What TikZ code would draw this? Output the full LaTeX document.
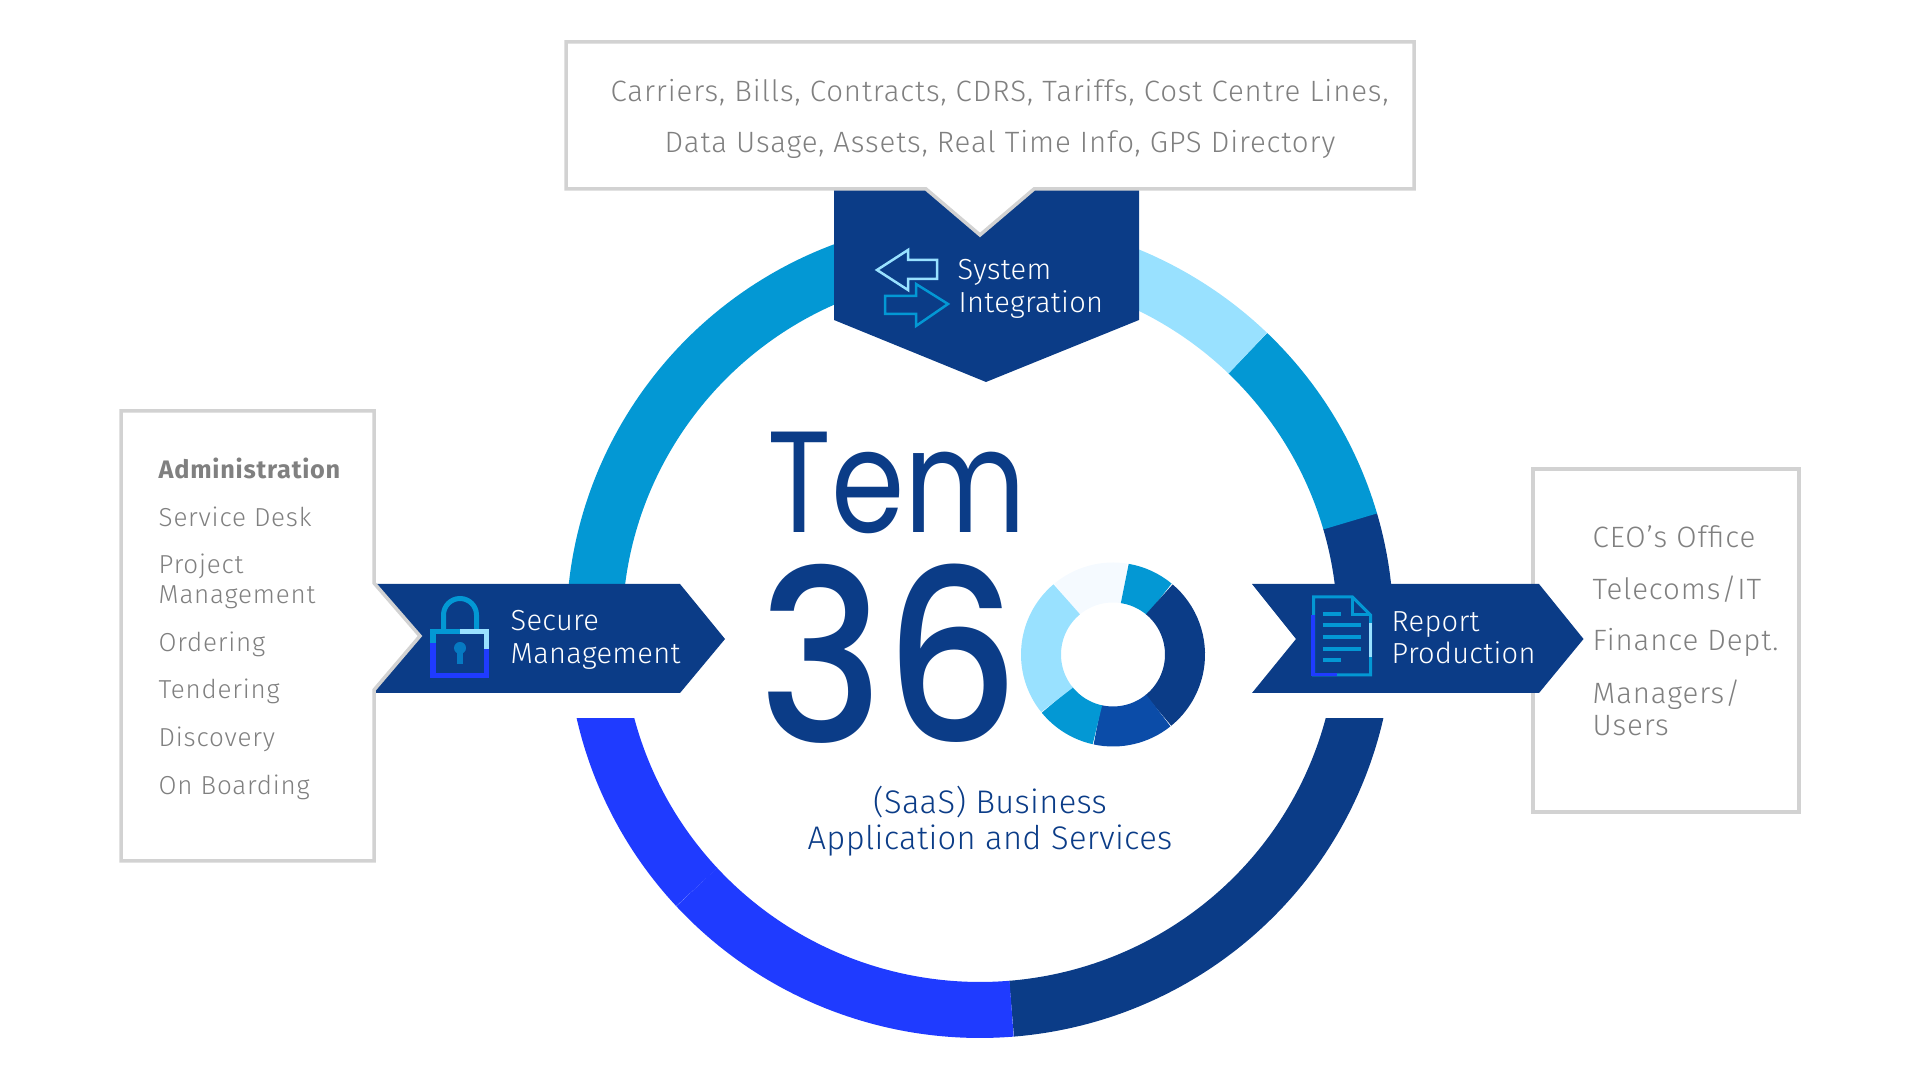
\documentclass[tikz,border=0pt]{standalone}
\usepackage{fontspec}
\setmainfont{Fira Sans}
\newfontfamily\lightfont{Fira Sans Light}[LetterSpace=3]
\newfontfamily\labelfont{Fira Sans Light}[LetterSpace=1]
\newfontfamily\strongfont{Fira Sans}[LetterSpace=3]
\newfontfamily\logofont{Poppins}
\newfontfamily\digitfont{Poppins Medium}
\definecolor{navy}{HTML}{0B3C87}
\definecolor{midblue}{HTML}{0398D4}
\definecolor{paleblue}{HTML}{99E1FF}
\definecolor{brightblue}{HTML}{1F3BFF}
\definecolor{royal}{HTML}{0B4CA8}
\definecolor{ice}{HTML}{F5FAFF}
\definecolor{boxline}{HTML}{D2D2D2}
\definecolor{greytext}{HTML}{808080}
\tikzset{
    ringseg/.style={line width=0.56cm},
    donutseg/.style={line width=0.40cm},
    infobox/.style={draw=boxline, line width=0.035cm, fill=white, miter limit=10},
    banner/.style={fill=navy},
    greylabel/.style={anchor=base west, inner sep=0pt, text=greytext, font=\fontsize{8.37}{10}\lightfont},
    listlabel/.style={greylabel, font=\fontsize{7.4}{10}\lightfont},
    whitelabel/.style={anchor=base west, inner sep=0pt, text=white, font=\fontsize{8.26}{10}\labelfont},
    sublabel/.style={anchor=base, inner sep=0pt, text=navy, font=\fontsize{9.3}{10}\labelfont},
    iconline/.style={line width=0.025cm, fill=none},
}
\begin{document}
\begin{tikzpicture}
    \useasboundingbox (0,0) rectangle (19.2,10.8);

    % Outer ring
    \begin{scope}[shift={(9.80,4.52)}]
        \foreach \from/\to/\col in {274.7/376.3/navy, 46/16.2/midblue, 100/46/paleblue, 190/100/midblue,
            190/222.7/brightblue, 222.7/274.7/brightblue}
            \draw[ringseg, \col] (\from:3.855 and 3.82) arc (\from:\to:3.855 and 3.82);
    \end{scope}
    \fill[white] (5.40,3.62) rectangle (14.30,3.87);

    % Banners
    \fill[banner] (8.34,9.00) -- (11.39,9.00) -- (11.39,7.60) -- (9.86,6.98) -- (8.34,7.60) -- cycle;
    \fill[banner] (3.75,4.96) -- (6.80,4.96) -- (7.25,4.41) -- (6.80,3.87) -- (3.75,3.87) -- cycle;

    % Boxes
    \draw[infobox] (5.66,8.91) -- (9.26,8.91) -- (9.80,8.45) -- (10.34,8.91) -- (14.14,8.91)
        -- (14.14,10.38) -- (5.66,10.38) -- cycle;
    \draw[infobox] (1.21,2.19) -- (3.74,2.19) -- (3.74,3.90) -- (4.20,4.44) -- (3.74,4.97)
        -- (3.74,6.69) -- (1.21,6.69) -- cycle;
    \draw[infobox] (15.33,2.68) rectangle (17.99,6.11);
    \fill[banner] (12.52,4.96) -- (15.39,4.96) -- (15.835,4.41) -- (15.39,3.87) -- (12.52,3.87)
        -- (12.96,4.41) -- cycle;

    % Top box text
    \node[greylabel] (carriers) at (6.10,9.78) {Carriers, Bills, Contracts, CDRS, Tariffs, Cost Centre Lines,};
    \node[greylabel] (usage) at (6.64,9.27) {Data Usage, Assets, Real Time Info, GPS Directory};

    % Left box text
    \node[listlabel, font=\fontsize{7.2}{10}\strongfont\bfseries] (admin) at (1.58,6.01) {Administration};
    \node[listlabel] (desk) at (1.58,5.53) {Service Desk};
    \node[listlabel] (project) at (1.58,5.06) {Project};
    \node[listlabel] (projectb) at (1.58,4.76) {Management};
    \node[listlabel] (ordering) at (1.58,4.28) {Ordering};
    \node[listlabel] (tendering) at (1.58,3.81) {Tendering};
    \node[listlabel] (discovery) at (1.58,3.33) {Discovery};
    \node[listlabel] (boarding) at (1.58,2.85) {On Boarding};

    % Right box text
    \node[greylabel] (ceo) at (15.92,5.32) {CEO’s Office};
    \node[greylabel] (telecoms) at (15.92,4.80) {Telecoms/IT};
    \node[greylabel] (finance) at (15.92,4.29) {Finance Dept.};
    \node[greylabel] (managers) at (15.92,3.76) {Managers/};
    \node[greylabel] (users) at (15.92,3.44) {Users};

    % Banner text
    \node[whitelabel] (system) at (9.57,8.00) {System};
    \node[whitelabel] (integration) at (9.58,7.67) {Integration};
    \node[whitelabel] (secure) at (5.10,4.49) {Secure};
    \node[whitelabel] (management) at (5.10,4.16) {Management};
    \node[whitelabel] (report) at (13.91,4.48) {Report};
    \node[whitelabel] (production) at (13.91,4.16) {Production};

    % System icon
    \draw[iconline, paleblue] (8.77,8.10) -- (9.08,8.30) -- (9.08,8.20) -- (9.37,8.20) -- (9.37,8.01)
        -- (9.08,8.01) -- (9.08,7.90) -- cycle;
    \draw[iconline, midblue] (9.48,7.76) -- (9.16,7.96) -- (9.16,7.84) -- (8.85,7.84) -- (8.85,7.66)
        -- (9.16,7.66) -- (9.16,7.54) -- cycle;

    % Lock icon
    \draw[line width=0.05cm, midblue] (4.435,4.51) -- (4.435,4.65) arc (180:0:0.165) -- (4.765,4.51);
    \draw[line width=0.055cm, brightblue] (4.33,4.37) -- (4.33,4.045) -- (4.865,4.045) -- (4.865,4.31);
    \draw[line width=0.055cm, midblue] (4.33,4.37) -- (4.33,4.485) -- (4.60,4.485);
    \draw[line width=0.055cm, paleblue] (4.60,4.485) -- (4.865,4.485) -- (4.865,4.31);
    \fill[midblue!60!royal] (4.60,4.32) circle (0.06);
    \fill[midblue!60!royal] (4.57,4.32) rectangle (4.63,4.16);

    % Report icon
    \draw[line width=0.03cm, midblue] (13.135,4.65) -- (13.135,4.83) -- (13.525,4.83) -- (13.705,4.65)
        -- (13.705,4.05) -- (13.135,4.05) -- cycle;
    \draw[line width=0.03cm, midblue] (13.525,4.83) -- (13.525,4.65) -- (13.705,4.65);
    \draw[line width=0.035cm, brightblue] (13.13,4.65) -- (13.13,4.055) -- (13.365,4.055);
    \draw[line width=0.03cm, paleblue] (13.705,4.57) -- (13.705,4.23);
    \foreach \ypos/\xend in {4.66/13.41, 4.55/13.61, 4.43/13.61, 4.31/13.61, 4.20/13.41}
        \draw[line width=0.04cm, midblue] (13.225,\ypos) -- (\xend,\ypos);

    % Logo
    \node[anchor=base west, inner sep=0pt, text=navy, font=\fontsize{41}{41}\logofont, xscale=0.82, transform shape] (tem) at (7.67,5.47) {Tem};
    \node[anchor=base west, inner sep=0pt, text=navy, font=\fontsize{68}{68}\digitfont, xscale=0.885, transform shape] (three) at (7.58,3.375) {36};
    \begin{scope}[shift={(11.13,4.255)}]
        \foreach \from/\to/\col in {130/80.6/ice, 80.6/50/midblue, 50/-51/navy, -51/-102.5/royal,
            -102.5/-141/midblue, -141/-230/paleblue}
            \draw[donutseg, \col] (\from:0.72) arc (\from:\to:0.72);
    \end{scope}

    % Subtitle
    \node[sublabel] (saas) at (9.90,2.66) {(SaaS) Business};
    \node[sublabel] (services) at (9.90,2.30) {Application and Services};
\end{tikzpicture}
\end{document}
